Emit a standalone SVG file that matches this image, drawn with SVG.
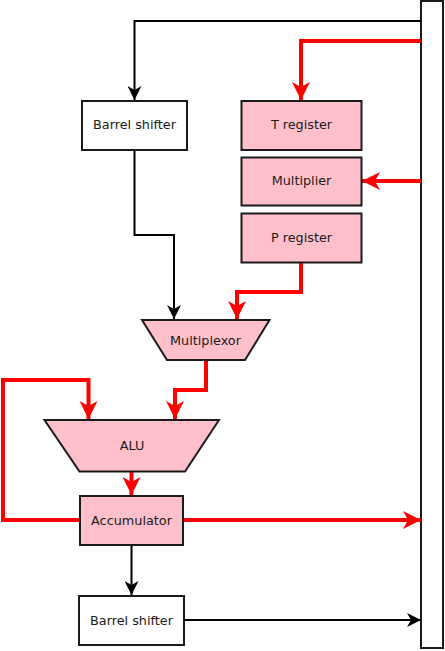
<svg xmlns="http://www.w3.org/2000/svg" width="445" height="651" viewBox="0 0 445 651">
<style>
.box{stroke:#1a1a1a;stroke-width:2}
.pink{fill:#ffc0cb}
.white{fill:#fff}
.lbl{font-family:"DejaVu Sans",sans-serif;font-size:12.8px;fill:#1a1a1a;text-anchor:middle}
.blk{fill:none;stroke:#000;stroke-width:2}
.red{fill:none;stroke:#f00;stroke-width:4}
</style>
<defs>
<marker id="ab" markerUnits="userSpaceOnUse" markerWidth="14" markerHeight="14" viewBox="0 0 14 14" refX="14" refY="7" orient="auto">
<path d="M0,0 L14,7 L0,14 L4,7 z" fill="#000"/>
</marker>
<marker id="ar" markerUnits="userSpaceOnUse" markerWidth="18" markerHeight="18" viewBox="0 0 18 18" refX="18" refY="9" orient="auto">
<path d="M0,0 L18,9 L0,18 L5,9 z" fill="#f00"/>
</marker>
</defs>
<g id="bus"><rect class="box white" x="421" y="1" width="22" height="647"/></g>
<g id="connectors">
<path class="blk" d="M421,21 H134.5 V100" marker-end="url(#ab)"/>
<path class="red" d="M421,41 H301 V100" marker-end="url(#ar)"/>
<path class="red" d="M421,181 H362" marker-end="url(#ar)"/>
<path class="blk" d="M134.5,150 V235 H174 V319" marker-end="url(#ab)"/>
<path class="red" d="M301,263 V292 H237 V319" marker-end="url(#ar)"/>
<path class="red" d="M206,360 V390 H175 V419" marker-end="url(#ar)"/>
<path class="red" d="M80,520 H3 V380 H88.5 V419" marker-end="url(#ar)"/>
<path class="red" d="M131.5,471 V495" marker-end="url(#ar)"/>
<path class="red" d="M183,520 H421" marker-end="url(#ar)"/>
<path class="blk" d="M131.5,545 V595" marker-end="url(#ab)"/>
<path class="blk" d="M184,620 H421" marker-end="url(#ab)"/>
</g>
<g id="barrel1"><rect class="box white" x="82" y="101" width="105" height="49"/><text class="lbl" x="134.5" y="129">Barrel shifter</text></g>
<g id="treg"><rect class="box pink" x="241.5" y="101" width="120" height="49"/><text class="lbl" x="301.5" y="129">T register</text></g>
<g id="mult"><rect class="box pink" x="241.5" y="157.5" width="120" height="48"/><text class="lbl" x="301.5" y="185">Multiplier</text></g>
<g id="preg"><rect class="box pink" x="241.5" y="213.5" width="120" height="49"/><text class="lbl" x="301.5" y="241.5">P register</text></g>
<g id="mux"><path class="box pink" d="M142,320 H269.5 L245,360 H167 Z"/><text class="lbl" x="205.5" y="344.5">Multiplexor</text></g>
<g id="alu"><path class="box pink" d="M44.5,420 H219 L185,471.5 H79.5 Z"/><text class="lbl" x="132" y="450">ALU</text></g>
<g id="acc"><rect class="box pink" x="80" y="496" width="103" height="49"/><text class="lbl" x="131.5" y="524.5">Accumulator</text></g>
<g id="barrel2"><rect class="box white" x="79" y="596" width="105" height="49"/><text class="lbl" x="131.5" y="624.5">Barrel shifter</text></g>
</svg>
